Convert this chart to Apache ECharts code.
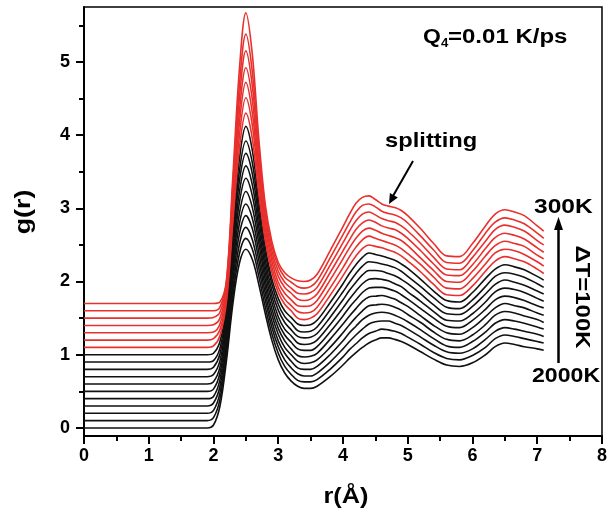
<!DOCTYPE html>
<html>
<head>
<meta charset="utf-8">
<script src="https://cdn.jsdelivr.net/npm/echarts@6/dist/echarts.min.js"></script>
<style>
html, body { margin: 0; padding: 0; background: #fff; }
#main { width: 610px; height: 510px; }
</style>
</head>
<body>
<div id="main"></div>
<script>
'use strict';
// r grid (Å) shared by every curve
let rVals = [0, 1.9, 2.0, 2.1, 2.2, 2.3, 2.4, 2.5, 2.6, 2.7, 2.8, 2.9, 3.0, 3.1, 3.2, 3.3, 3.4, 3.5, 3.6, 3.8,
    4.0, 4.1, 4.2, 4.3, 4.4, 4.5, 4.6, 4.7, 4.8, 4.9, 5.0, 5.2, 5.4, 5.6, 5.8, 6.0, 6.2, 6.35, 6.5, 6.65, 6.8, 7.0, 7.1];

// g(r) at each temperature (no vertical shift)
let g2000 = [0, 0, .04, .30, .92, 1.70, 2.25, 2.44, 2.30, 1.96, 1.56, 1.20, .93, .75, .64, .57, .54, .54, .57, .70, .86, .95, 1.03, 1.10, 1.16, 1.20, 1.23, 1.23, 1.21, 1.18, 1.14, 1.04, .94, .86, .84, .89, 1.00, 1.11, 1.16, 1.14, 1.11, 1.08, 1.06];
let g1900 = [0, 0, .04, .29, .90, 1.70, 2.28, 2.49, 2.34, 1.97, 1.55, 1.19, .92, .74, .63, .55, .53, .53, .56, .70, .87, .97, 1.05, 1.13, 1.19, 1.22, 1.25, 1.24, 1.22, 1.19, 1.14, 1.04, .93, .85, .83, .89, 1.00, 1.12, 1.17, 1.15, 1.12, 1.08, 1.06];
let g1800 = [0, 0, .04, .28, .88, 1.70, 2.31, 2.54, 2.37, 1.98, 1.55, 1.18, .91, .73, .62, .54, .51, .51, .55, .70, .88, .98, 1.07, 1.15, 1.22, 1.25, 1.26, 1.26, 1.23, 1.20, 1.15, 1.04, .93, .84, .82, .88, 1.01, 1.12, 1.17, 1.15, 1.12, 1.08, 1.05];
let g1700 = [0, 0, .04, .27, .86, 1.71, 2.35, 2.60, 2.42, 1.99, 1.54, 1.16, .89, .72, .61, .52, .50, .50, .54, .70, .89, 1.00, 1.09, 1.18, 1.24, 1.27, 1.28, 1.27, 1.24, 1.20, 1.15, 1.04, .92, .82, .80, .88, 1.01, 1.13, 1.18, 1.16, 1.13, 1.08, 1.05];
let g1600 = [0, 0, .03, .26, .83, 1.71, 2.39, 2.66, 2.46, 2.00, 1.53, 1.15, .88, .70, .60, .51, .48, .49, .53, .70, .90, 1.01, 1.11, 1.20, 1.27, 1.28, 1.29, 1.28, 1.25, 1.21, 1.15, 1.04, .91, .81, .79, .87, 1.01, 1.14, 1.19, 1.17, 1.13, 1.08, 1.04];
let g1500 = [0, 0, .03, .25, .81, 1.71, 2.43, 2.73, 2.51, 2.02, 1.52, 1.13, .86, .69, .58, .49, .47, .48, .52, .71, .92, 1.03, 1.13, 1.23, 1.29, 1.30, 1.31, 1.29, 1.26, 1.21, 1.16, 1.03, .90, .80, .78, .87, 1.02, 1.14, 1.20, 1.17, 1.14, 1.07, 1.04];
let g1400 = [0, 0, .03, .23, .77, 1.71, 2.48, 2.81, 2.57, 2.03, 1.51, 1.12, .84, .67, .57, .48, .46, .46, .51, .71, .93, 1.05, 1.15, 1.25, 1.31, 1.32, 1.32, 1.30, 1.27, 1.22, 1.16, 1.03, .90, .79, .77, .87, 1.02, 1.15, 1.20, 1.18, 1.14, 1.07, 1.04];
let g1300 = [0, 0, .03, .22, .75, 1.71, 2.52, 2.88, 2.62, 2.04, 1.50, 1.10, .82, .65, .56, .46, .44, .45, .50, .71, .94, 1.06, 1.17, 1.27, 1.33, 1.34, 1.33, 1.31, 1.27, 1.23, 1.16, 1.03, .89, .77, .76, .86, 1.02, 1.16, 1.21, 1.19, 1.15, 1.07, 1.03];
let g1200 = [0, 0, .03, .21, .72, 1.72, 2.57, 2.95, 2.67, 2.06, 1.49, 1.08, .81, .64, .54, .45, .43, .44, .49, .71, .95, 1.08, 1.19, 1.29, 1.35, 1.35, 1.34, 1.31, 1.28, 1.23, 1.17, 1.03, .88, .76, .75, .86, 1.03, 1.16, 1.22, 1.19, 1.15, 1.07, 1.03];
let g1100 = [0, 0, .02, .19, .69, 1.72, 2.61, 3.02, 2.72, 2.07, 1.48, 1.07, .79, .62, .53, .43, .41, .42, .48, .71, .96, 1.09, 1.21, 1.31, 1.37, 1.36, 1.34, 1.32, 1.29, 1.24, 1.17, 1.03, .88, .75, .73, .85, 1.03, 1.17, 1.22, 1.20, 1.16, 1.07, 1.02];
let g1000 = [0, 0, .02, .18, .65, 1.72, 2.67, 3.12, 2.79, 2.09, 1.47, 1.04, .77, .60, .51, .42, .40, .41, .47, .71, .97, 1.11, 1.23, 1.33, 1.39, 1.37, 1.35, 1.32, 1.29, 1.24, 1.18, 1.03, .87, .74, .72, .85, 1.04, 1.17, 1.23, 1.20, 1.16, 1.07, 1.02];
let g900 = [0, 0, .02, .16, .62, 1.72, 2.72, 3.20, 2.85, 2.10, 1.46, 1.03, .75, .59, .50, .40, .38, .40, .46, .71, .98, 1.12, 1.25, 1.35, 1.40, 1.38, 1.36, 1.33, 1.30, 1.25, 1.18, 1.03, .86, .72, .71, .84, 1.04, 1.18, 1.24, 1.21, 1.17, 1.07, 1.01];
let g800 = [0, 0, .02, .14, .58, 1.73, 2.79, 3.31, 2.93, 2.13, 1.44, 1.00, .72, .56, .47, .39, .37, .38, .45, .71, .99, 1.14, 1.27, 1.37, 1.42, 1.39, 1.36, 1.33, 1.30, 1.25, 1.18, 1.03, .86, .71, .70, .84, 1.04, 1.19, 1.24, 1.22, 1.17, 1.07, 1.01];
let g700 = [0, 0, .01, .12, .54, 1.73, 2.86, 3.42, 3.00, 2.15, 1.43, .98, .69, .54, .45, .37, .36, .37, .44, .72, 1.01, 1.16, 1.29, 1.39, 1.43, 1.40, 1.36, 1.33, 1.30, 1.26, 1.19, 1.02, .85, .70, .69, .84, 1.05, 1.19, 1.25, 1.22, 1.18, 1.06, 1.01];
let g600 = [0, 0, .01, .10, .50, 1.74, 2.92, 3.52, 3.08, 2.16, 1.41, .95, .67, .52, .44, .36, .34, .36, .43, .72, 1.02, 1.17, 1.31, 1.40, 1.44, 1.41, 1.36, 1.33, 1.31, 1.26, 1.19, 1.02, .84, .69, .68, .83, 1.05, 1.20, 1.26, 1.23, 1.18, 1.06, 1.00];
let g500 = [0, 0, .01, .08, .45, 1.74, 3.00, 3.65, 3.17, 2.19, 1.39, .92, .64, .49, .41, .34, .33, .35, .42, .72, 1.03, 1.19, 1.33, 1.42, 1.45, 1.41, 1.36, 1.33, 1.31, 1.26, 1.19, 1.02, .83, .67, .66, .83, 1.05, 1.21, 1.27, 1.24, 1.19, 1.06, 1.00];
let g400 = [0, 0, 0, .05, .39, 1.74, 3.08, 3.78, 3.26, 2.21, 1.38, .89, .61, .46, .39, .33, .31, .33, .41, .72, 1.04, 1.20, 1.35, 1.44, 1.46, 1.42, 1.36, 1.33, 1.31, 1.27, 1.20, 1.02, .83, .66, .65, .82, 1.06, 1.21, 1.27, 1.24, 1.19, 1.06, .99];
let g300 = [0, 0, 0, .02, .32, 1.75, 3.20, 3.97, 3.40, 2.25, 1.35, .85, .56, .42, .35, .31, .30, .32, .40, .72, 1.05, 1.22, 1.37, 1.45, 1.47, 1.42, 1.36, 1.33, 1.31, 1.27, 1.20, 1.02, .82, .65, .64, .82, 1.06, 1.22, 1.28, 1.25, 1.20, 1.06, .99];

let temps = [2000, 1900, 1800, 1700, 1600, 1500, 1400, 1300, 1200, 1100, 1000, 900, 800, 700, 600, 500, 400, 300];
let curves = [g2000, g1900, g1800, g1700, g1600, g1500, g1400, g1300, g1200, g1100, g1000,
    g900, g800, g700, g600, g500, g400, g300];
let offsetStep = 0.1; // each curve shifted up by 0.1 from the previous one
let redBelow = 900;   // T <= 900K drawn in red

let xTickLabels = [0, 1, 2, 3, 4, 5, 6, 7, 8];
let xMinorTicks = [0.5, 1.5, 2.5, 3.5, 4.5, 5.5, 6.5, 7.5];
let yTickLabels = [0, 1, 2, 3, 4, 5];
let yMinorTicks = [0.5, 1.5, 2.5, 3.5, 4.5, 5.5];

let FONT = '"Liberation Sans", Arial, sans-serif';
let RED = '#e8302c';
let BLACK = '#111111';

let myChart = echarts.init(document.getElementById('main'));

let series = [];
for (let i = 0; i < curves.length; i++) {
    let pts = [];
    for (let j = 0; j < rVals.length; j++) {
        pts.push([rVals[j], +(curves[i][j] + i * offsetStep).toFixed(3)]);
    }
    series.push({
        name: temps[i] + 'K',
        type: 'line',
        data: pts,
        smooth: 0.35,
        showSymbol: false,
        lineStyle: {
            width: 1.6,
            color: temps[i] <= redBelow ? RED : BLACK,
        },
        z: 2 + i,
    });
}

let axisLineStyle = { color: '#000', width: 2 };
let labelStyle = { color: '#000', fontFamily: FONT, fontWeight: 'bold', fontSize: 18 };

// wide bold text, as in the original figure
function label(text, x, y, size, extra) {
    return Object.assign({
        type: 'text', x: x, y: y, z: 100, scaleX: 1.18,
        style: { text: text, fontFamily: FONT, fontWeight: 'bold', fontSize: size, fill: '#000',
            align: 'left', verticalAlign: 'top' },
    }, extra || {});
}

let option = {
    animation: false,
    backgroundColor: '#fff',
    grid: {
        left: 84,
        right: 2,
        top: 7,
        bottom: 74,
        show: true,
        borderColor: '#000',
        borderWidth: 1.5,
    },
    xAxis: [
        {
            type: 'value',
            min: 0,
            max: 8,
            position: 'bottom',
            axisLine: { onZero: false, lineStyle: axisLineStyle },
            axisTick: { customValues: xTickLabels, length: 8, lineStyle: axisLineStyle },
            axisLabel: Object.assign({ customValues: xTickLabels, margin: 11 }, labelStyle),
            splitLine: { show: false },
        },
        {
            type: 'value',
            min: 0,
            max: 8,
            position: 'bottom',
            axisLine: { show: false, onZero: false },
            axisTick: { customValues: xMinorTicks, length: 5, lineStyle: axisLineStyle },
            axisLabel: { show: false },
            splitLine: { show: false },
        },
    ],
    yAxis: [
        {
            type: 'value',
            min: -0.11,
            max: 5.75,
            position: 'left',
            axisLine: { show: true, onZero: false, lineStyle: axisLineStyle },
            axisTick: { show: true, customValues: yTickLabels, length: 8, lineStyle: axisLineStyle },
            axisLabel: Object.assign({ customValues: yTickLabels, margin: 14 }, labelStyle),
            splitLine: { show: false },
        },
        {
            type: 'value',
            min: -0.11,
            max: 5.75,
            position: 'left',
            axisLine: { show: false, onZero: false },
            axisTick: { show: true, customValues: yMinorTicks, length: 5, lineStyle: axisLineStyle },
            axisLabel: { show: false },
            splitLine: { show: false },
        },
    ],
    series: series,
    graphic: [
        // axis titles
        label('r(Å)', 346, 497, 22, { scaleX: 1.15,
            style: { text: 'r(Å)', fontFamily: FONT, fontWeight: 'bold', fontSize: 22, fill: '#000',
                align: 'center', verticalAlign: 'middle' } }),
        label('g(r)', 24, 212, 22, { rotation: Math.PI / 2, scaleX: 1.22,
            style: { text: 'g(r)', fontFamily: FONT, fontWeight: 'bold', fontSize: 22, fill: '#000',
                align: 'center', verticalAlign: 'middle' } }),
        // Q4 = 0.01 K/ps
        label('Q', 423, 27, 20, { scaleX: 1.15 }),
        label('4', 441, 38, 12, { scaleX: 1.1 }),
        label('=0.01 K/ps', 448, 27, 20, { scaleX: 1.2 }),
        // splitting label + arrow
        label('splitting', 385, 131, 21, { scaleX: 1.13 }),
        { type: 'line', z: 100, shape: { x1: 413, y1: 161, x2: 393, y2: 196 },
            style: { stroke: '#000', lineWidth: 2 } },
        { type: 'polygon', z: 100, shape: { points: [[389, 204], [397.8, 197.5], [389.9, 193.1]] },
            style: { fill: '#000' } },
        // temperature arrow
        label('300K', 534, 197, 21, { scaleX: 1.17 }),
        label('2000K', 532, 366, 21, { scaleX: 1.1 }),
        { type: 'line', z: 100, shape: { x1: 558.5, y1: 363, x2: 558.5, y2: 228 },
            style: { stroke: '#000', lineWidth: 2.5 } },
        { type: 'polygon', z: 100, shape: { points: [[558.5, 217], [554, 230], [563, 230]] },
            style: { fill: '#000' } },
        label('ΔT=100K', 582, 297, 21, { rotation: -Math.PI / 2, scaleX: 1.14,
            style: { text: 'ΔT=100K', fontFamily: FONT, fontWeight: 'bold', fontSize: 21, fill: '#000',
                align: 'center', verticalAlign: 'middle' } }),
    ],
};

myChart.setOption(option);
</script>
</body>
</html>
